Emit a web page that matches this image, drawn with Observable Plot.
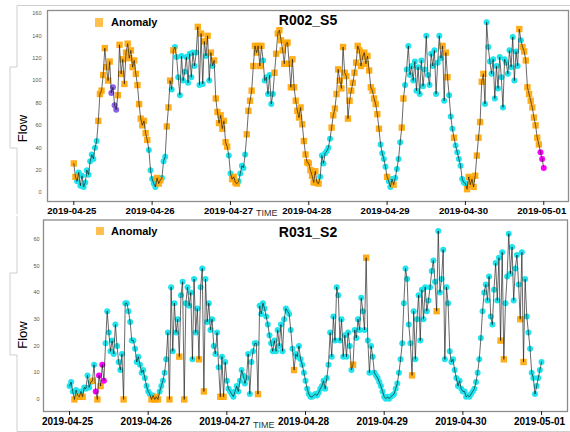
<!DOCTYPE html>
<html><head><meta charset="utf-8">
<script src="https://cdn.jsdelivr.net/npm/d3@7"></script>
<script src="https://cdn.jsdelivr.net/npm/@observablehq/plot@0.6"></script>
<style>
body{margin:0;background:#fff;}
#page{position:relative;width:570px;height:432px;overflow:hidden;font-family:"Liberation Sans",Arial,sans-serif;background:#fff;}
.chart{position:absolute;left:0;}
#overlay{position:absolute;left:0;top:0;pointer-events:none;}
</style>
</head><body>
<div id="page">
  <div id="top" class="chart" style="top:0px"></div>
  <div id="bottom" class="chart" style="top:215px"></div>
</div>
<script>
// ---- tick labels (one per day, x = day index) ----
const tickLabels = ["2019-04-25","2019-04-26","2019-04-27","2019-04-28","2019-04-29","2019-04-30","2019-05-01"];
const tickPos = [0,1,2,3,4,5,6];

// ---- R002_S5 flow, 30-minute steps, one array per day ----
const r002_0425 = [26,14,10,18,6,15,5,9,20,16,28,34,30,40,46,64,88,91,105,129,112,100,117,89,94,78,74,87,132,106,119,97,125,133,120,127,112,118,106,96,79,66,60,64,53,47,38,20];
const r002_0426 = [12,8,5,13,8,11,13,28,32,59,76,100,92,127,130,121,103,87,122,100,108,121,98,124,103,125,113,125,148,96,142,97,135,122,140,100,125,113,118,84,72,62,69,57,64,45,41,33];
const r002_0427 = [17,12,14,9,8,10,17,24,22,34,52,73,82,91,113,131,125,131,113,131,118,100,103,88,105,79,88,107,124,142,145,136,127,115,133,134,115,94,119,94,82,73,67,76,61,46,34,27];
const r002_0428 = [26,20,15,9,19,9,8,14,33,26,35,37,40,48,58,69,75,88,110,100,93,130,107,104,66,82,91,98,107,116,131,127,113,121,125,115,122,109,94,91,84,79,70,57,43,35,30,23];
const r002_0429 = [14,10,5,12,7,13,21,30,45,58,84,96,110,131,105,113,100,117,91,112,88,118,95,110,140,105,96,124,113,127,88,116,140,120,131,82,125,103,87,68,57,49,42,36,30,24,12,9];
const r002_0430 = [8,3,14,7,12,5,15,33,49,63,99,106,79,152,130,117,106,119,84,113,93,121,103,76,119,116,106,127,112,139,100,126,113,146,136,130,126,118,94,88,82,76,67,60,49,43,36,30,22];
// point class per day as runs: n = normal, a = anomaly, p = purple cluster, m = magenta cluster
const r002_runs = [
  [["a",2],["n",13],["a",8],["p",4],["a",19],["n",2]],
  [["n",3],["a",3],["n",3],["a",3],["n",1],["a",1],["n",14],["a",1],["n",1],["a",1],["n",1],["a",1],["n",1],["a",1],["n",1],["a",1],["n",1],["a",9],["n",1]],
  [["n",1],["a",4],["n",5],["a",10],["n",7],["a",21]],
  [["a",7],["n",7],["a",30],["n",4]],
  [["a",1],["n",3],["a",1],["n",4],["a",2],["n",23],["a",1],["n",1],["a",2],["n",3],["a",1],["n",6]],
  [["n",1],["a",11],["n",21],["a",1],["n",1],["a",11],["m",3]]
];

// ---- R031_S2 flow, 30-minute steps ----
const r031_0425 = [5,6.5,3,0,3.5,1.5,1,3,1,4.5,4,9,4.5,6.5,7,13,3,0,9,5,13,7,21,33,25,18,22,17,28,20,14,11,17,0,36,36,33,29,22,22,19,14,16,13,10,11,8,5];
const r031_0426 = [3,2,0,1.5,0,1,0,3,5,7,10,15,25,0,42,18,36,25,30,16,39,44,0,36,42,35,40,15,45,25,34,15,42,49,3,45,29,36,26,30,20,17,25,12,1,16,1,14];
const r031_0427 = [7,4,3,2,1,3,5,3,7,11,9,6,8,17,2,14,18,21,21,2,35,32,36,34,31,28,24,21,18,22,18,26,20,28,18,30,34,33,32,26,19,11,17,16,20,15,13,10];
const r031_0428 = [7,4,2,1,1,1.5,2,1.5,2.5,4,5,7,4,8,13,25,16,31,22,42,39,22,30,16,24,16,25,20,11,13,26,23,30,26,38,33,26,53,22,10,20,16,10,9,8,6.5,5,3];
const r031_0429 = [1,0.3,1,0.3,1,1.5,2,4,6,10,15,21,36,49,45,28,21,9,33,15,30,39,22,41,30,42,33,37,42,48,52,44,33,63,40,45,56,15,42,36,18,14,15,11,8,5,7,4];
const r031_0430 = [3,3,1,1.5,1,2,3,4,6.5,10,15,23,33,40,43,37,46,31,28,41,51,37,53,22,55,15,36,46,62,47,57,37,49,54,43,30,55,14,45,31,25,19,10,8,2,5,8,11,14];
const r031_runs = [
  [["n",3],["a",1],["n",2],["a",1],["n",1],["a",1],["n",5],["a",1],["n",1],["m",1],["a",1],["m",1],["a",1],["m",2],["n",11],["a",1],["n",14]],
  [["n",2],["a",1],["n",1],["a",3],["n",6],["a",1],["n",5],["a",1],["n",2],["a",1],["n",8],["a",1],["n",2],["a",1],["n",9],["a",1],["n",1],["a",1],["n",1]],
  [["n",19],["a",1],["n",21],["a",1],["n",6]],
  [["n",29],["a",1],["n",7],["a",1],["n",10]],
  [["n",17],["a",1],["n",14],["a",1],["n",15]],
  [["n",23],["a",1],["n",1],["a",1],["n",9],["a",1],["n",1],["a",1],["n",11]]
];

function expand(runs) { return runs.flatMap(([t, k]) => Array(k).fill(t)); }
function rows(days, runs) {
  const out = [];
  days.forEach((vals, d) => {
    const types = expand(runs[d]);
    vals.forEach((v, i) => out.push({x: d + i / 48, y: v, t: types[i] || "n"}));
  });
  return out;
}

const COLORS = {n: "#1fe4ee", a: "#ffa500", p: "#8a62e6", m: "#ff00ff"};

function makeChart({data, height, margins, xDomain, yDomain, yTicks, yPad, xFont}) {
  const pick = t => data.filter(d => d.t === t);
  return Plot.plot({
    width: 570,
    height,
    marginTop: margins[0], marginRight: margins[1], marginBottom: margins[2], marginLeft: margins[3],
    style: {fontFamily: '"Liberation Sans", Arial, sans-serif', background: "transparent", overflow: "visible"},
    x: {type: "linear", domain: xDomain},
    y: {type: "linear", domain: yDomain},
    marks: [
      Plot.frame({stroke: "#8c8c8c", strokeWidth: 1.3}),
      Plot.axisY({ticks: yTicks, tickSize: 0, tickPadding: yPad, fontSize: 5.5, color: "#555", label: null}),
      Plot.axisX({ticks: tickPos, tickSize: 4, color: "#222", tickFormat: () => "", label: null}),
      Plot.axisX({ticks: tickPos, tickFormat: i => tickLabels[i], tickSize: 0, tickPadding: 6, dx: -2, fontSize: xFont, fontWeight: "bold", color: "#000", label: null}),
      Plot.dot(pick("n"), {x: "x", y: "y", r: 3, fill: COLORS.n, stroke: "none"}),
      Plot.dot(pick("a"), {x: "x", y: "y", r: 3.6, symbol: "square", fill: COLORS.a, fillOpacity: 0.9, stroke: "none"}),
      Plot.dot(pick("p"), {x: "x", y: "y", r: 3, fill: COLORS.p, stroke: "none"}),
      Plot.dot(pick("m"), {x: "x", y: "y", r: 3, fill: COLORS.m, stroke: "none"}),
      Plot.line(data, {x: "x", y: "y", stroke: "#151515", strokeWidth: 0.8, strokeOpacity: 0.8})
    ]
  });
}

const topData = rows([r002_0425, r002_0426, r002_0427, r002_0428, r002_0429, r002_0430], r002_runs);
const botData = rows([r031_0425, r031_0426, r031_0427, r031_0428, r031_0429, r031_0430], r031_runs);

document.getElementById("top").append(makeChart({
  data: topData, height: 222, margins: [10, 2, 21, 47],
  xDomain: [-0.336, 6.316], yDomain: [-8.0, 162.6], yTicks: [0,20,40,60,80,100,120,140,160], yPad: 6, xFont: 9.6
}));
document.getElementById("bottom").append(makeChart({
  data: botData, height: 217, margins: [4.5, 3, 21, 43],
  xDomain: [-0.3305, 6.330], yDomain: [-4.5, 67.1], yTicks: [0,10,20,30,40,50,60], yPad: 4, xFont: 10
}));

// ---- overlay: titles, legends, axis labels, screenshot frame lines ----
const ns = "http://www.w3.org/2000/svg";
const ov = document.createElementNS(ns, "svg");
ov.setAttribute("id", "overlay");
ov.setAttribute("width", 570); ov.setAttribute("height", 432);
ov.setAttribute("font-family", '"Liberation Sans", Arial, sans-serif');
function el(tag, attrs, text) {
  const e = document.createElementNS(ns, tag);
  for (const k in attrs) e.setAttribute(k, attrs[k]);
  if (text) e.textContent = text;
  ov.append(e); return e;
}
el("path", {d: "M17,5.5H570M17,5.5V67H10V148H17V214", fill: "none", stroke: "#cfcfcf", "stroke-width": 1});
el("path", {d: "M17,216V273H10V355H17V431.5H570", fill: "none", stroke: "#cfcfcf", "stroke-width": 1});
const panels = [
  {title: "R002_S5", ty: 25, sq: [95, 18, 8, 9], ly: 26, flowY: 128.5, timeX: 256, timeY: 216},
  {title: "R031_S2", ty: 237, sq: [96, 227, 8, 8], ly: 235, flowY: 335, timeX: 253, timeY: 428}
];
for (const p of panels) {
  el("text", {x: 308, y: p.ty, "text-anchor": "middle", "font-size": 14, "font-weight": "bold", fill: "#000"}, p.title);
  el("rect", {x: p.sq[0], y: p.sq[1], width: p.sq[2], height: p.sq[3], fill: "#ffc04f"});
  el("text", {x: 111, y: p.ly, "font-size": 11, "font-weight": "bold", fill: "#000"}, "Anomaly");
  el("text", {transform: `translate(27,${p.flowY}) rotate(-90)`, "text-anchor": "middle", "font-size": 13, fill: "#000"}, "Flow");
  el("text", {x: p.timeX, y: p.timeY, "font-size": 9, fill: "#333"}, "TIME");
}
document.getElementById("page").append(ov);
</script>
</body></html>
